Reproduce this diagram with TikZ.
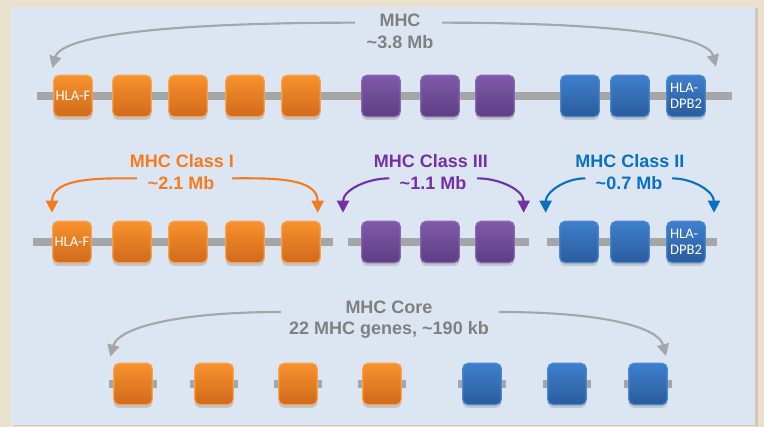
\documentclass[tikz,border=0pt]{standalone}
\usepackage{fontspec}
\setmainfont{Liberation Sans}
\newfontfamily\genefont{Carlito}
\usetikzlibrary{arrows.meta,shadows}

\definecolor{pageBeige}{HTML}{E9E1CB}
\definecolor{panelBlue}{HTML}{DCE6F2}
\definecolor{barGray}{HTML}{A6A6A6}
\definecolor{txtGray}{HTML}{808080}
\definecolor{orangeTop}{HTML}{F8922C}
\definecolor{orangeBot}{HTML}{D0691C}
\definecolor{orangeLine}{HTML}{F9A24E}
\definecolor{orangeTxt}{HTML}{F47B20}
\definecolor{purpleTop}{HTML}{8059A8}
\definecolor{purpleBot}{HTML}{5E3E85}
\definecolor{purpleLine}{HTML}{8B66B2}
\definecolor{purpleTxt}{HTML}{7431A3}
\definecolor{blueTop}{HTML}{3E7FCC}
\definecolor{blueBot}{HTML}{2B5C9D}
\definecolor{blueLine}{HTML}{4C88D1}
\definecolor{blueTxt}{HTML}{0A70C2}

\pgfdeclarelayer{panel}
\pgfdeclarelayer{bars}
\pgfsetlayers{panel,bars,main}

\begin{document}
\begin{tikzpicture}[
        x=0.75pt, y=-0.75pt,
        gene/.style={rectangle, rounded corners=4pt, minimum width=29pt, minimum height=31pt, inner sep=0pt, line width=0.9pt, text=white, font=\genefont\fontsize{11}{12}\selectfont, drop shadow={opacity=0.3, shadow xshift=0pt, shadow yshift=-2.5pt}},
        classI/.style={gene, draw=orangeLine, top color=orangeTop, bottom color=orangeBot},
        classIII/.style={gene, draw=purpleLine, top color=purpleTop, bottom color=purpleBot},
        classII/.style={gene, draw=blueLine, top color=blueTop, bottom color=blueBot},
        bar/.style={line width=6pt, draw=barGray},
        label/.style={font=\bfseries\fontsize{13.5}{16}\selectfont, inner sep=0pt},
        sizearrow/.style={line width=1.6pt, -{Triangle[length=9pt,width=9pt]}}
    ]
        \useasboundingbox (0,0) rectangle (764,427);

        % Panel
        \begin{pgfonlayer}{panel}
            \fill[pageBeige] (0,0) rectangle (764,427);
            \fill[panelBlue, drop shadow={opacity=0.25, shadow xshift=2pt, shadow yshift=-1pt}] (11,7) rectangle (755,425);
        \end{pgfonlayer}

        % Whole MHC
        \node[classI] (top1) at (73,96) {HLA-F};
        \node[classI] (top2) at (132,96) {};
        \node[classI] (top3) at (188,96) {};
        \node[classI] (top4) at (245,96) {};
        \node[classI] (top5) at (301,96) {};
        \node[classIII] (top6) at (381,96) {};
        \node[classIII] (top7) at (440,96) {};
        \node[classIII] (top8) at (495,96) {};
        \node[classII] (top9) at (580,96) {};
        \node[classII] (top10) at (630,96) {};
        \node[classII, align=left] (top11) at (686,96) {HLA-\\DPB2};

        \node[label, text=txtGray] (mhc) at (400,20) {MHC};
        \node[label, text=txtGray] (mhcmb) at (400,42) {\textasciitilde3.8 Mb};

        \draw[sizearrow, barGray] ([xshift=-18pt,yshift=-2pt]mhc.west) to[out=180, in=75, out distance=135pt, in distance=26pt] ([xshift=-15.5pt,yshift=5pt]top1.north);
        \draw[sizearrow, barGray] ([xshift=16pt,yshift=-2pt]mhc.east) to[out=0, in=105, out distance=115pt, in distance=26pt] ([xshift=22.5pt,yshift=6pt]top11.north);

        % Three classes
        \node[classI] (mid1) at (72,242) {HLA-F};
        \node[classI] (mid2) at (132,242) {};
        \node[classI] (mid3) at (188,242) {};
        \node[classI] (mid4) at (245,242) {};
        \node[classI] (mid5) at (301,242) {};
        \node[classIII] (mid6) at (381,242) {};
        \node[classIII] (mid7) at (440,242) {};
        \node[classIII] (mid8) at (495,242) {};
        \node[classII] (mid9) at (579,242) {};
        \node[classII] (mid10) at (630,242) {};
        \node[classII, align=left] (mid11) at (686,242) {HLA-\\DPB2};

        \node[label, text=orangeTxt] (cls1) at (182,161) {MHC Class I};
        \node[label, text=orangeTxt] (cls1mb) at (181,183) {\textasciitilde2.1 Mb};
        \node[label, text=purpleTxt] (cls3) at (431,161) {MHC Class III};
        \node[label, text=purpleTxt] (cls3mb) at (433,183) {\textasciitilde1.1 Mb};
        \node[label, text=blueTxt] (cls2) at (630,161) {MHC Class II};
        \node[label, text=blueTxt] (cls2mb) at (629,183) {\textasciitilde0.7 Mb};

        \draw[sizearrow, orangeTxt] ([xshift=-8pt,yshift=3.5pt]cls1mb.west) to[out=180, in=90] ([xshift=-15pt,yshift=6pt]mid1.north);
        \draw[sizearrow, orangeTxt] ([xshift=13pt,yshift=3.5pt]cls1mb.east) to[out=0, in=90] ([xshift=12.5pt,yshift=6pt]mid5.north);
        \draw[sizearrow, purpleTxt] ([xshift=-7.5pt,yshift=3.5pt]cls3mb.west) to[out=180, in=90] ([xshift=-28.5pt,yshift=6pt]mid6.north);
        \draw[sizearrow, purpleTxt] ([xshift=8pt,yshift=3.5pt]cls3mb.east) to[out=0, in=90] ([xshift=21.5pt,yshift=6pt]mid8.north);
        \draw[sizearrow, blueTxt] ([xshift=-7.5pt,yshift=3.5pt]cls2mb.west) to[out=180, in=90] ([xshift=-25pt,yshift=6pt]mid9.north);
        \draw[sizearrow, blueTxt] ([xshift=7pt,yshift=3.5pt]cls2mb.east) to[out=0, in=90] ([xshift=21pt,yshift=6pt]mid11.north);

        % MHC core
        \node[classI] (core1) at (133,384) {};
        \node[classI] (core2) at (214,384) {};
        \node[classI] (core3) at (298,384) {};
        \node[classI] (core4) at (382,384) {};
        \node[classII] (core5) at (482,384) {};
        \node[classII] (core6) at (567,384) {};
        \node[classII] (core7) at (648,384) {};

        \node[label, text=txtGray] (core) at (389,307) {MHC Core};
        \node[label, text=txtGray] (coremb) at (389,330) {22 MHC genes, \textasciitilde190 kb};

        \draw[sizearrow, barGray] ([xshift=-6pt,yshift=13.5pt]coremb.west) to[out=180, in=75, out distance=80pt, in distance=22pt] ([xshift=-17pt,yshift=4.5pt]core1.north);
        \draw[sizearrow, barGray] ([xshift=7.5pt,yshift=13.5pt]coremb.east) to[out=0, in=105, out distance=80pt, in distance=22pt] ([xshift=13.5pt,yshift=5pt]core7.north);

        % Chromosome bars
        \begin{pgfonlayer}{bars}
            \draw[bar] ([xshift=-12pt]top1.west) -- ([xshift=19.5pt]top11.east);
            \draw[bar] ([xshift=-14pt]mid1.west) -- ([xshift=9pt]mid5.east);
            \draw[bar] ([xshift=-10pt]mid6.west) -- ([xshift=10.5pt]mid8.east);
            \draw[bar] ([xshift=-9pt]mid9.west) -- ([xshift=8pt]mid11.east);
            \draw[bar] ([xshift=-3pt]core1.west) -- ([xshift=3pt]core1.east);
            \draw[bar] ([xshift=-3pt]core2.west) -- ([xshift=3pt]core2.east);
            \draw[bar] ([xshift=-3pt]core3.west) -- ([xshift=3pt]core3.east);
            \draw[bar] ([xshift=-3pt]core4.west) -- ([xshift=3pt]core4.east);
            \draw[bar] ([xshift=-3pt]core5.west) -- ([xshift=3pt]core5.east);
            \draw[bar] ([xshift=-3pt]core6.west) -- ([xshift=3pt]core6.east);
            \draw[bar] ([xshift=-3pt]core7.west) -- ([xshift=3pt]core7.east);
        \end{pgfonlayer}

    \end{tikzpicture}
\end{document}
